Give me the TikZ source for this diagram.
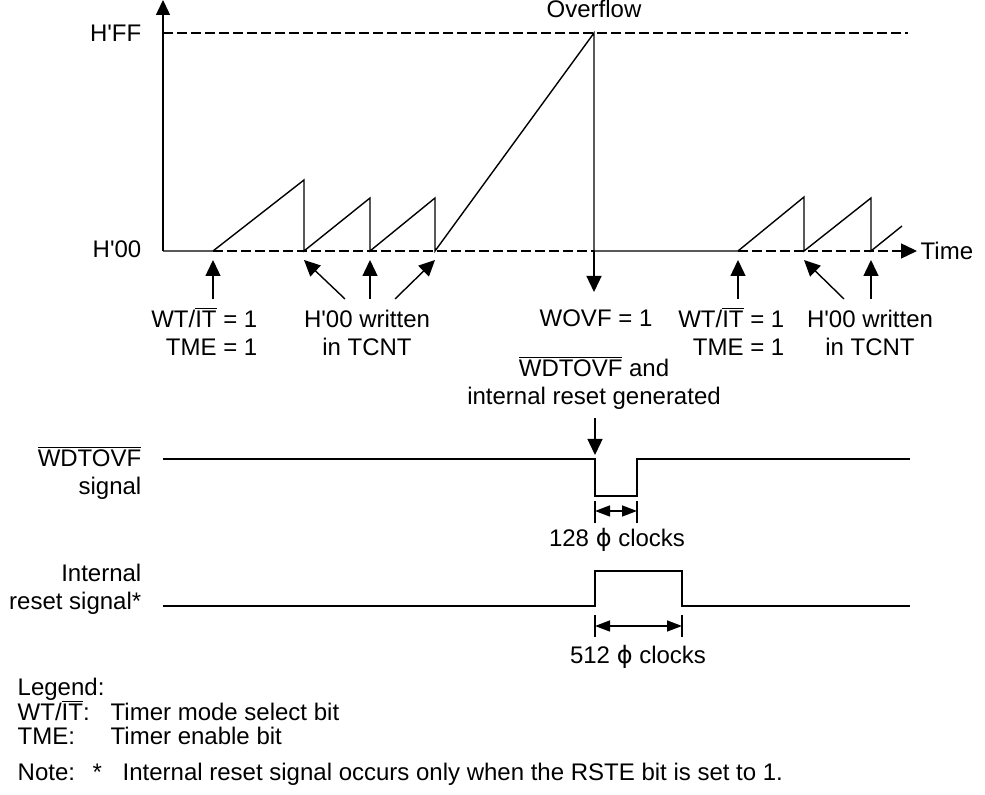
\documentclass[tikz,border=0pt]{standalone}
\usepackage{fontspec}
\setmainfont{Liberation Sans}
\newfontfamily\phifont{DejaVu Sans}
\usetikzlibrary{calc, arrows.meta}
\newcommand{\ovl}[1]{$\overline{\mbox{#1}}$}
\newcommand{\phisym}{{\phifont ϕ}}
\newcommand{\hq}{H\textquotesingle}

\begin{document}
\begin{tikzpicture}[x=0.5pt, y=-0.5pt, line width=0.7pt,
  font=\fontsize{12}{14}\selectfont,
  dashline/.style={dash pattern=on 5pt off 2pt},
  ptr/.style={-{Triangle[length=8pt, width=7.5pt]}},
  dimline/.style={{Triangle[length=7.5pt, width=5.5pt]}-{Triangle[length=7.5pt, width=5.5pt]}},
  txt/.style={inner sep=0pt, align=center},
]
  \useasboundingbox (0,0) rectangle (985,795);
  % counter axes
  \coordinate (O) at (163,251);
  \coordinate (Ytop) at (163,0);
  \coordinate (FF) at (163,33);
  \coordinate (FFend) at (908,33);
  \coordinate (Tend) at (917,251);
  \coordinate (S0) at (213,251);
  \coordinate (S1) at (304,251);
  \coordinate (S2) at (370,251);
  \coordinate (S3) at (435,251);
  \coordinate (OV) at (594,251);
  \coordinate (R0) at (738,251);
  \coordinate (R1) at (804,251);
  \coordinate (R2) at (871,251);
  \draw[-{Triangle[length=7.5pt, width=7pt]}] (O) -- (Ytop);
  \draw[dashline] (FF) -- (FFend);
  \draw[dashline] (S0) -- (OV);
  \draw[dashline, ptr] (R0) -- (Tend);
  % TCNT count
  \draw (O) -- (S0) -- (304,180) -- (S1) -- (370,198) -- (S2) -- (435,198) -- (S3)
    -- (594,33) -- (OV) -- (R0) -- (804,197) -- (R1) -- (871,198) -- (R2) -- (902,226);
  \node[txt, anchor=east] (hff) at (142,33) {\hq FF};
  \node[txt, anchor=east] (h00) at (142,249) {\hq 00};
  \node[txt, anchor=base] (ovf) at (594,18) {Overflow};
  \node[txt, anchor=west] (time) at (920,251) {Time};
  % events
  \foreach \pt/\dx in {S0/0, S1/41, S2/0, S3/-40, R0/0, R1/40, R2/0}
    \draw[ptr] ($(\pt)+(\dx,48)$) -- ($(\pt)+(0,9)$);
  \draw[ptr] (OV) -- ($(OV)+(0,41)$);
  \node[txt, align=right, anchor=base east] (wt1) at (258,356) {WT/\ovl{IT} = 1\\TME = 1};
  \node[txt, anchor=base] (wr1) at (367,356) {\hq 00 written\\in TCNT};
  \node[txt, anchor=base] (wovf) at (596,327) {WOVF = 1};
  \node[txt, align=right, anchor=base east] (wt2) at (785,356) {WT/\ovl{IT} = 1\\TME = 1};
  \node[txt, anchor=base] (wr2) at (870,356) {\hq 00 written\\in TCNT};
  \node[txt, anchor=base] (rst) at (594,405) {\ovl{WDTOVF} and\\internal reset generated};
  % WDTOVF signal
  \coordinate (W0) at (163,459);
  \coordinate (W1) at (595,459);
  \coordinate (W2) at (637,459);
  \coordinate (Wend) at (910,459);
  \draw (W0) -- (W1) -- ($(W1)+(0,37)$) -- ($(W2)+(0,37)$) -- (W2) -- (Wend);
  \draw[ptr] ($(W1)+(0,-41)$) -- ($(W1)+(0,-4)$);
  \foreach \pt in {W1,W2} \draw ($(\pt)+(0,42)$) -- ($(\pt)+(0,64)$);
  \draw[dimline] ($(W1)+(0,52)$) -- ($(W2)+(0,52)$);
  \node[txt, anchor=base] (c128) at (617,547) {128 \phisym\ clocks};
  \node[txt, align=right, anchor=base east] (wsig) at (142,495) {\ovl{WDTOVF}\\signal};
  % internal reset signal
  \coordinate (I0) at (163,606);
  \coordinate (I1) at (595,606);
  \coordinate (I2) at (682,606);
  \coordinate (Iend) at (910,606);
  \draw (I0) -- (I1) -- ($(I1)+(0,-35)$) -- ($(I2)+(0,-35)$) -- (I2) -- (Iend);
  \foreach \pt in {I1,I2} \draw ($(\pt)+(0,9)$) -- ($(\pt)+(0,31)$);
  \draw[dimline] ($(I1)+(0,20)$) -- ($(I2)+(0,20)$);
  \node[txt, anchor=base] (c512) at (638,664) {512 \phisym\ clocks};
  \node[txt, align=right, anchor=base east] (isig) at (142,610) {Internal\\reset signal*};
  % legend
  \node[txt, anchor=base west] (leg) at (17,696) {Legend:};
  \node[txt, anchor=base west] (lg1) at (17,721) {WT/\ovl{IT}:};
  \node[txt, anchor=base west] (lg1t) at (110,721) {Timer mode select bit};
  \node[txt, anchor=base west] (lg2) at (17,745) {TME:};
  \node[txt, anchor=base west] (lg2t) at (110,745) {Timer enable bit};
  \node[txt, anchor=base west] (note) at (17,780) {Note:};
  \node[txt, anchor=base west] (nstar) at (92,780) {*};
  \node[txt, anchor=base west] (ntxt) at (122,780) {Internal reset signal occurs only when the RSTE bit is set to 1.};
\end{tikzpicture}
\end{document}
